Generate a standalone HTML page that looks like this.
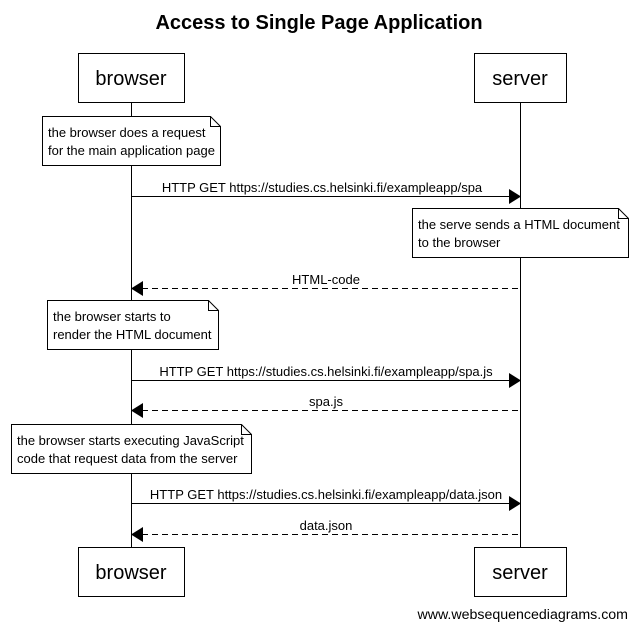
<!DOCTYPE html>
<html><head><style>body{margin:0;background:#fff}</style></head><body>
<svg width="638" height="630" xmlns="http://www.w3.org/2000/svg" font-family="Liberation Sans, Arial, sans-serif">
<rect width="638" height="630" fill="#fff"/>
<text x="319" y="29" font-size="20" font-weight="bold" text-anchor="middle">Access to Single Page Application</text>
<g stroke="#000" stroke-width="1" fill="#fff">
<line x1="131.5" y1="102" x2="131.5" y2="547"/>
<line x1="520.5" y1="102" x2="520.5" y2="547"/>
<rect x="78.5" y="53.5" width="106" height="49"/>
<rect x="474.5" y="53.5" width="92" height="49"/>
<rect x="78.5" y="547.5" width="106" height="49"/>
<rect x="474.5" y="547.5" width="92" height="49"/>
<path d="M42.5 116.5H210.5L220.5 126.5V165.5H42.5Z"/><path d="M210.5 116.5V126.5H220.5" fill="none"/>
<path d="M412.5 208.5H618.5L628.5 218.5V257.5H412.5Z"/><path d="M618.5 208.5V218.5H628.5" fill="none"/>
<path d="M47.5 300.5H208.5L218.5 310.5V349.5H47.5Z"/><path d="M208.5 300.5V310.5H218.5" fill="none"/>
<path d="M11.5 424.5H241.5L251.5 434.5V473.5H11.5Z"/><path d="M241.5 424.5V434.5H251.5" fill="none"/>
<line x1="131" y1="196.5" x2="510" y2="196.5"/>
<line x1="142" y1="288.5" x2="520" y2="288.5" stroke-dasharray="6,4"/>
<line x1="131" y1="380.5" x2="510" y2="380.5"/>
<line x1="142" y1="410.5" x2="520" y2="410.5" stroke-dasharray="6,4"/>
<line x1="131" y1="503.5" x2="510" y2="503.5"/>
<line x1="142" y1="534.5" x2="520" y2="534.5" stroke-dasharray="6,4"/>
</g>
<g fill="#000">
<path d="M509 189L521 196.5L509 204Z"/>
<path d="M143 281L131 288.5L143 296Z"/>
<path d="M509 373L521 380.5L509 388Z"/>
<path d="M143 403L131 410.5L143 418Z"/>
<path d="M509 496L521 503.5L509 511Z"/>
<path d="M143 527L131 534.5L143 542Z"/>
</g>
<g font-size="20" text-anchor="middle">
<text x="131" y="85">browser</text><text x="520" y="85">server</text>
<text x="131" y="579">browser</text><text x="520" y="579">server</text>
</g>
<g font-size="13">
<text x="48" y="137">the browser does a request</text><text x="48" y="155">for the main application page</text>
<text x="418" y="229">the serve sends a HTML document</text><text x="418" y="247">to the browser</text>
<text x="53" y="321">the browser starts to</text><text x="53" y="339">render the HTML document</text>
<text x="17" y="445">the browser starts executing JavaScript</text><text x="17" y="463">code that request data from the server</text>
</g>
<g font-size="13" text-anchor="middle">
<text x="322" y="192">HTTP GET https://studies.cs.helsinki.fi/exampleapp/spa</text>
<text x="326" y="284">HTML-code</text>
<text x="326" y="376">HTTP GET https://studies.cs.helsinki.fi/exampleapp/spa.js</text>
<text x="326" y="406">spa.js</text>
<text x="326" y="499">HTTP GET https://studies.cs.helsinki.fi/exampleapp/data.json</text>
<text x="326" y="530">data.json</text>
</g>
<text x="628" y="619" font-size="14.2" text-anchor="end">www.websequencediagrams.com</text>
</svg>
</body></html>
